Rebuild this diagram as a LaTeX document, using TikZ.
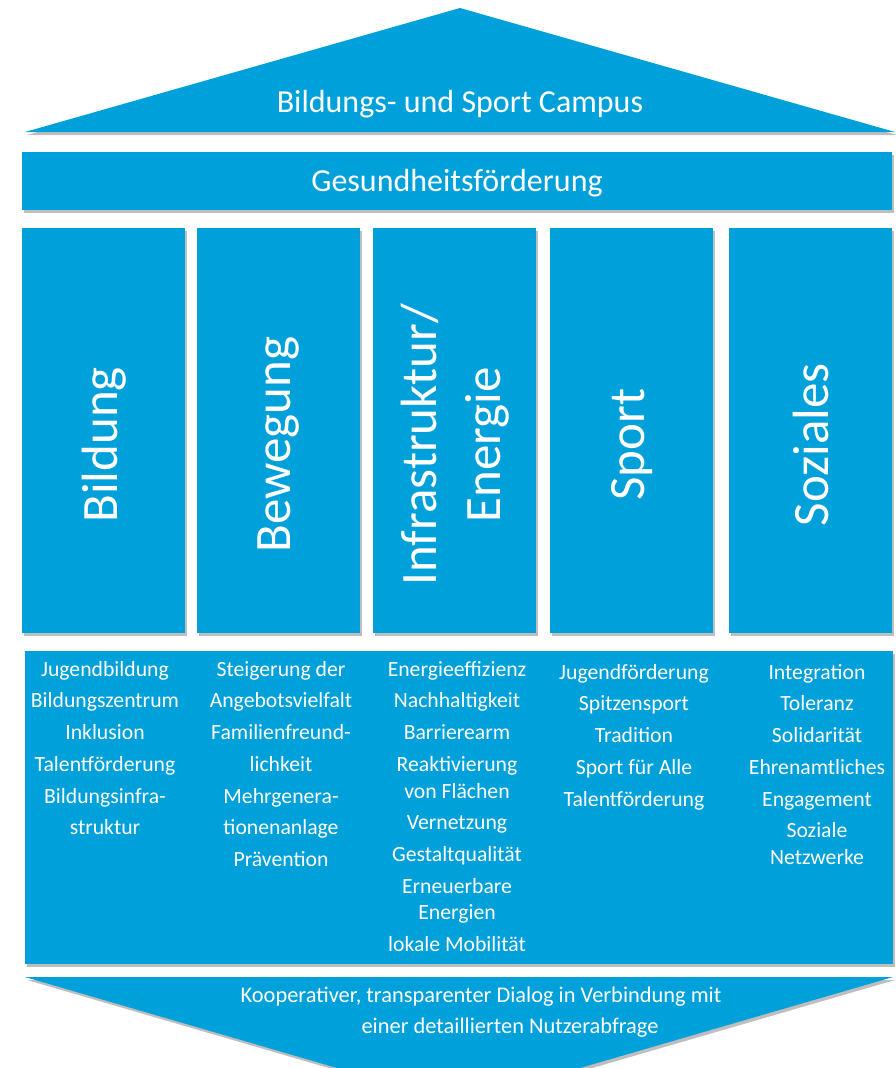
\documentclass[tikz,border=0pt]{standalone}
\usepackage{fontspec}
\setmainfont{Carlito}
\usepackage{tikz}
\usetikzlibrary{shadows,positioning,calc}
\definecolor{campusblue}{RGB}{0,161,219}
\definecolor{shadowgrey}{RGB}{110,110,110}
\tikzstyle{every node}=[text=white]
\tikzstyle{block}=[fill=campusblue, drop shadow={shadow xshift=2pt,shadow yshift=-3pt,opacity=0.45,fill=shadowgrey}]
\tikzstyle{pillar}=[block, rectangle, minimum width=163pt, minimum height=405pt, inner sep=0pt]
\tikzstyle{pillar label}=[rotate=90, align=center, inner sep=0pt, font=\fontsize{51}{64}\selectfont]
\tikzstyle{item list}=[align=center, anchor=north, inner sep=0pt, font=\fontsize{21.7}{31.7}\selectfont]
\tikzstyle{head text}=[anchor=base, inner sep=0pt, font=\fontsize{32}{38}\selectfont]
\tikzstyle{dialog text}=[anchor=base, inner sep=0pt, font=\fontsize{22.4}{30}\selectfont]

\begin{document}
\begin{tikzpicture}[x=1pt,y=-1pt]
\useasboundingbox (0,0) rectangle (895,1068);

    % roof
    \fill[block] (25,132) -- (460,8) -- (895,132) -- cycle;
    \node[head text] (campus) at (460,112) {Bildungs- und Sport Campus};

    % beam
    \node[block, anchor=north west, minimum width=870pt, minimum height=58pt, inner sep=0pt] (health) at (22,152) {};
    \node[head text] (health-title) at (457,191) {Gesundheitsförderung};

    % pillars
    \foreach \name / \x in {1/22,2/197,3/373,4/550,5/729}
        \node[pillar, anchor=north west] (P-\name) at (\x,228) {};

    \foreach \name / \txt in {1/Bildung,2/Bewegung,3/{Infrastruktur/\\Energie},4/Sport,5/Soziales}
        \node[pillar label] (T-\name) at ($(P-\name.center)+(0,14)$) {\txt};

    % base with the topics
    \node[block, anchor=north west, minimum width=868pt, minimum height=313pt, inner sep=0pt] (topics) at (25,651) {};

    \node[item list] (L-1) at (105,661) {Jugendbildung\\Bildungszentrum\\Inklusion\\Talentförderung\\Bildungsinfra-\\struktur};
    \node[item list] (L-2) at (281,661) {Steigerung der\\Angebotsvielfalt\\Familienfreund-\\lichkeit\\Mehrgenera-\\tionenanlage\\Prävention};
    \node[item list] (L-3) at (457,661) {Energieeffizienz\\Nachhaltigkeit\\Barrierearm\\Reaktivierung\\[-5pt]von Flächen\\Vernetzung\\Gestaltqualität\\Erneuerbare\\[-5pt]Energien\\lokale Mobilität};
    \node[item list] (L-4) at (634,664) {Jugendförderung\\Spitzensport\\Tradition\\Sport für Alle\\Talentförderung};
    \node[item list] (L-5) at (817,664) {Integration\\Toleranz\\Solidarität\\Ehrenamtliches\\Engagement\\Soziale\\[-5pt]Netzwerke};

    % foundation arrow
    \fill[block] (25,977) -- (893,977) -- (580,1068) -- (337,1068) -- cycle;
    \node[dialog text] (dialog-1) at (481,1002) {Kooperativer, transparenter Dialog in Verbindung mit};
    \node[dialog text] (dialog-2) at (510,1033) {einer detaillierten Nutzerabfrage};

\end{tikzpicture}
\end{document}
